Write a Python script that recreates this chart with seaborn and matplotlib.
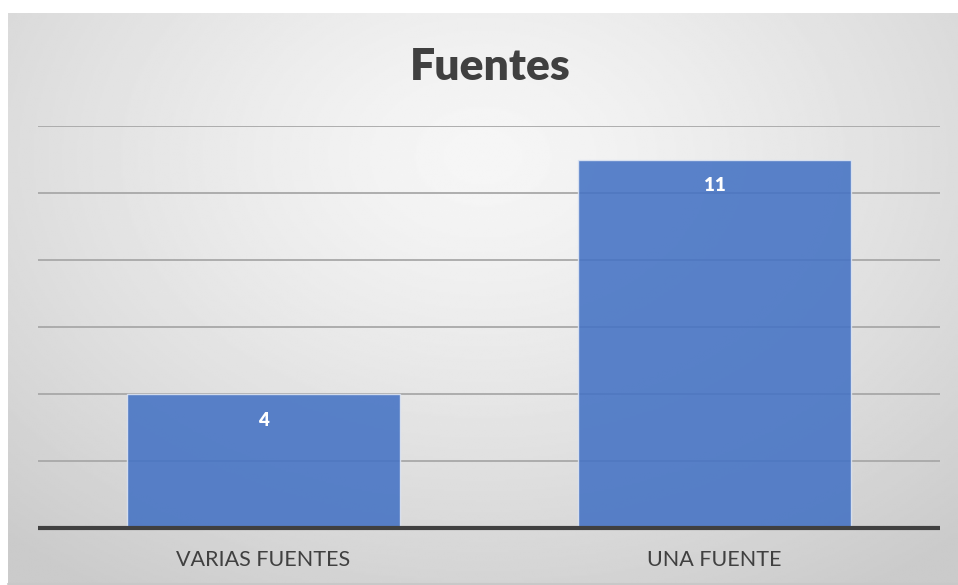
import numpy as np
import pandas as pd
import matplotlib.pyplot as plt
import seaborn as sns

categorias = ['VARIAS FUENTES', 'UNA FUENTE']
valores = [4, 11]
ticks_y = [2, 4, 6, 8, 10, 12]

sns.set_theme(style='white')
plt.rcParams['font.family'] = ['Lato', 'DejaVu Sans']

fig = plt.figure(figsize=(9.58, 5.85), dpi=100, facecolor='white')

# fondo con degradado radial
fondo = fig.add_axes([8 / 958, 0, 950 / 958, 572 / 585])
yy, xx = np.mgrid[0:1:300j, 0:1:500j]
dist = np.sqrt(((xx - 0.5) / 0.75) ** 2 + ((yy - 0.25) / 0.9) ** 2)
grad = 0.965 - 0.17 * np.clip(dist, 0, 1) ** 1.3
fondo.imshow(grad, cmap='gray', vmin=0, vmax=1, aspect='auto',
             extent=[0, 1, 1, 0], interpolation='bilinear')
fondo.set_axis_off()
fondo.plot([0, 1], [0.002, 0.002], color='#c8c8c8', lw=1.5,
           transform=fondo.transAxes, clip_on=False)

ax = fig.add_axes([38 / 958, 57 / 585, 902 / 958, 402 / 585])
ax.patch.set_alpha(0)

df = pd.DataFrame({'categoria': categorias, 'valor': valores})
sns.barplot(data=df, x='categoria', y='valor', color='#4472c4',
            width=0.607, saturation=1, alpha=0.88,
            edgecolor='#dfe6f3', linewidth=1, ax=ax, zorder=2)

for y in ticks_y:
    ax.axhline(y, color='#a8a8a8', lw=1.3, zorder=1)
ax.axhline(0, color='#404040', lw=3, zorder=3, clip_on=False,
           solid_capstyle='butt')

for i, v in enumerate(valores):
    ax.text(i, v - 0.78, str(v), ha='center', va='center',
            color='white', fontsize=13.5, fontweight='heavy', zorder=4)

ax.set_ylim(0, 12)
ax.set_xlim(-0.5, 1.5)
ax.set_yticks([])
ax.set_xlabel('')
ax.set_ylabel('')
ax.tick_params(axis='x', length=0, pad=16, labelsize=15.5, labelcolor='#404040')
sns.despine(ax=ax, left=True, bottom=True)

fig.text(490 / 958, 1 - 67 / 585, 'Fuentes', ha='center', va='center',
         fontsize=32, fontweight='heavy', color='#404040')

fig.savefig('out.png', dpi=100, facecolor='white')
